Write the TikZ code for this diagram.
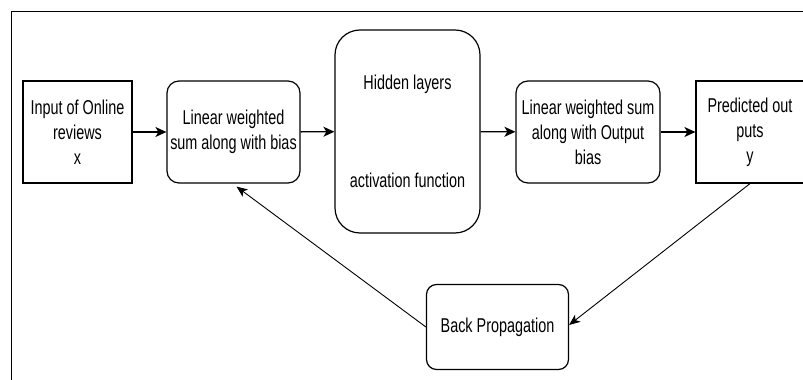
\documentclass[tikz,border=0pt]{standalone}
\usepackage{fontspec}
\setmainfont[FakeStretch=0.72]{Liberation Sans}
\usetikzlibrary{positioning,arrows.meta}
\tikzset{
  sq/.style={draw, line width=1.2pt, align=center, font=\fontsize{20}{25}\selectfont,
             inner sep=2pt},
  rnd/.style={sq, rounded corners=12pt},
  flow/.style={-{Stealth[length=11pt,width=10pt,inset=3pt]}, line width=1.4pt},
  fback/.style={-{Stealth[length=11pt,width=9pt,inset=3pt]}, line width=0.9pt},
}

\begin{document}
\begin{tikzpicture}[x=1pt, y=1pt]
\useasboundingbox (0,0) rectangle (803,380);
% outer frame (only top and left edges fall on the page)
\draw[line width=1pt] (11,-10) -- (11,368) -- (815,368);

\node[sq,  minimum width=109pt, minimum height=102pt] (inp)  at (77.5,248)
  {Input of Online\\reviews\\x};
\node[rnd, minimum width=133pt, minimum height=102pt] (lin1) at (233.5,248)
  {Linear weighted\\sum along with bias};
\node[rnd, rounded corners=25pt, minimum width=145pt, minimum height=203pt] (hid) at (407.5,248.5)
  {Hidden layers\\[73pt]activation function};
\node[rnd, minimum width=144pt, minimum height=102pt] (lin2) at (588,248)
  {Linear weighted sum\\along with Output\\bias};
\node[sq,  minimum width=108pt, minimum height=102pt] (pred) at (750,248)
  {Predicted out\\puts\\y};
\node[rnd, rounded corners=10pt, minimum width=142pt, minimum height=85pt] (bp) at (497.5,53)
  {Back Propagation};

\draw[flow] (inp) -- (lin1);
\draw[flow] (lin1) -- (hid);
\draw[flow] (hid) -- (lin2);
\draw[flow] (lin2) -- (pred);
\draw[fback] (pred.south) -- ([yshift=2pt]bp.east);
\draw[fback] (bp.west) -- ([xshift=3pt,yshift=-3pt]lin1.south);
\end{tikzpicture}
\end{document}
